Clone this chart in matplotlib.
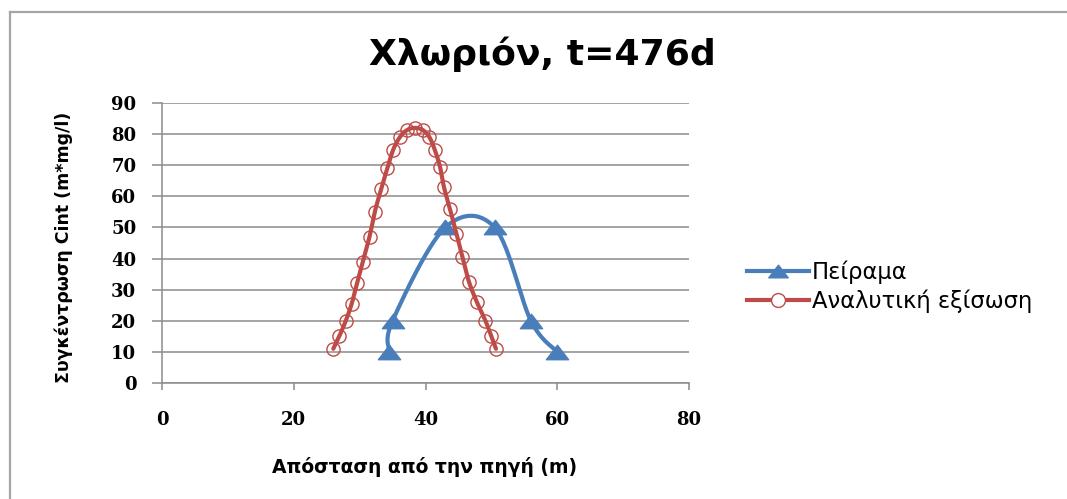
import numpy as np
import matplotlib
matplotlib.use("Agg")
import matplotlib.pyplot as plt
from matplotlib.lines import Line2D
from matplotlib.path import Path

# ---- data ----
title = "Χλωριόν, t=476d"
xlabel = "Απόσταση από την πηγή (m)"
ylabel = "Συγκέντρωση Cint (m*mg/l)"
series_names = ["Πείραμα", "Αναλυτική εξίσωση"]

exp_x = [34.5, 35.0, 43.0, 50.5, 56.0, 60.0]
exp_y = [10, 20, 50, 50, 20, 10]

ana_x = [26.0, 26.9, 27.9, 28.8, 29.6, 30.5, 31.5, 32.3, 33.3, 34.2, 35.1, 36.1, 37.2, 38.4,
         39.6, 40.6, 41.4, 42.2, 42.8, 43.7, 44.7, 45.6, 46.6, 47.8, 49.1, 50.0, 50.7]
ana_y = [11, 15, 20, 25.5, 32, 39, 47, 55, 62.5, 69, 75, 79, 81.3, 82,
         81.3, 79, 75, 69.5, 63, 56, 48, 40.5, 32.5, 26, 20, 15, 11]

x_ticks = [0, 20, 40, 60, 80]
y_ticks = [0, 10, 20, 30, 40, 50, 60, 70, 80, 90]

BLUE = "#4A7EBB"
RED = "#BE4B48"
GRID = "#8c8c8c"


def smooth(xs, ys, n=30):
    """Excel-style smoothed line (Bezier through points, Catmull-Rom tangents)."""
    P = np.column_stack([xs, ys]).astype(float)
    Pext = np.vstack([P[0], P, P[-1]])
    out = [P[0]]
    t = np.linspace(0, 1, n)[1:, None]
    for i in range(len(P) - 1):
        p0, p1, p2, p3 = Pext[i], Pext[i + 1], Pext[i + 2], Pext[i + 3]
        c1 = p1 + (p2 - p0) / 6.0
        c2 = p2 - (p3 - p1) / 6.0
        seg = ((1 - t) ** 3) * p1 + 3 * ((1 - t) ** 2) * t * c1 + 3 * (1 - t) * t ** 2 * c2 + t ** 3 * p2
        out.extend(seg)
    out = np.array(out)
    return out[:, 0], out[:, 1]


W, H = 1067, 499
fig = plt.figure(figsize=(W / 100, H / 100), dpi=100)
fig.patch.set_facecolor("white")

left, right, top, bottom = 162, 689, 103, 383
ax = fig.add_axes([left / W, 1 - bottom / H, (right - left) / W, (bottom - top) / H])

tri = Path([(-1, -0.65), (1, -0.65), (0, 0.65), (-1, -0.65)],
           [Path.MOVETO, Path.LINETO, Path.LINETO, Path.CLOSEPOLY])

# experimental series
sx, sy = smooth(exp_x, exp_y)
ax.plot(sx, sy, color=BLUE, lw=3.0, solid_capstyle="round", zorder=3)
ax.plot(exp_x, exp_y, ls="none", marker=tri, ms=16, color=BLUE, mec=BLUE, mew=1, zorder=4)

# analytical series
rx, ry = smooth(ana_x, ana_y)
ax.plot(ana_x, ana_y, ls="none", marker="o", ms=9.5, mfc="none", mec=RED, mew=1.0, zorder=3)
ax.plot(rx, ry, color=RED, lw=3.0, solid_capstyle="round", zorder=4)

ax.set_xlim(0, 80)
ax.set_ylim(0, 90)
ax.set_xticks(x_ticks)
ax.set_yticks(y_ticks)
ax.yaxis.grid(True, color=GRID, lw=1.1)
ax.set_axisbelow(True)
for s in ["top", "right"]:
    ax.spines[s].set_visible(False)
for s in ["left", "bottom"]:
    ax.spines[s].set_color(GRID)
    ax.spines[s].set_linewidth(1.1)

tick_font = dict(family="DejaVu Serif", weight="bold", size=13)
ax.tick_params(axis="y", direction="out", length=7.5, width=1.1, color=GRID, pad=11)
ax.tick_params(axis="x", direction="out", length=5, width=1.1, color=GRID, pad=15)
for lab in ax.get_xticklabels() + ax.get_yticklabels():
    lab.set_fontfamily(tick_font["family"])
    lab.set_fontweight(tick_font["weight"])
    lab.set_fontsize(tick_font["size"])

# texts
fig.text(542 / W, 1 - 54 / H, title, ha="center", va="center",
         family="DejaVu Sans", weight="bold", fontsize=26)
fig.text(425 / W, 1 - 467 / H, xlabel, ha="center", va="center",
         family="DejaVu Sans", weight="bold", fontsize=13.5)
fig.text(64 / W, 1 - 247 / H, ylabel, ha="center", va="center", rotation=90,
         family="DejaVu Sans", weight="bold", fontsize=12.5)

# legend
h1 = Line2D([], [], color=BLUE, lw=3.0, marker=tri, ms=14, mec=BLUE)
h2 = Line2D([], [], color=RED, lw=3.0, marker="o", ms=10, mfc="white", mec=RED, mew=1.0)
fig.legend([h1, h2], series_names, loc="center left",
           bbox_to_anchor=(747 / W, 1 - 287 / H), frameon=False,
           borderpad=0, borderaxespad=0, handlelength=2.75, handletextpad=0.12,
           labelspacing=0.25, prop=dict(family="DejaVu Sans", size=16.3))

# chart frame
fig.add_artist(Line2D([9.5 / W, 9.5 / W], [0, 1 - 12 / H], color="#a6a6a6", lw=1.6,
                      transform=fig.transFigure))
fig.add_artist(Line2D([9.5 / W, 1.0], [1 - 12 / H, 1 - 12 / H], color="#a6a6a6", lw=1.6,
                      transform=fig.transFigure))

fig.savefig("out.png", dpi=100)
